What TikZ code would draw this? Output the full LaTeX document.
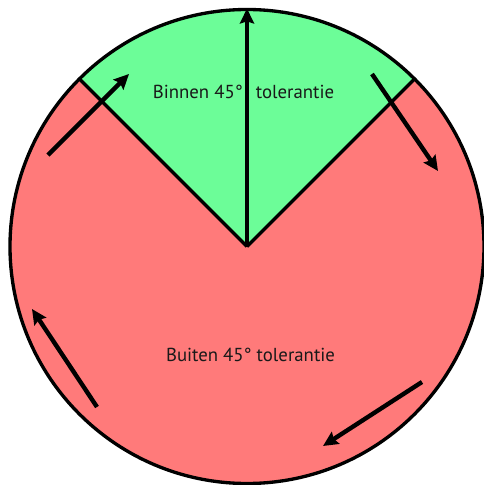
\documentclass[tikz,border=0pt]{standalone}
\usepackage{fontspec}
\setmainfont{PT Sans}
\usepackage{xcolor}
\usepackage{tikz}
\usetikzlibrary{arrows.meta,calc}
\definecolor{groen}{HTML}{6CFD98}
\definecolor{rood}{HTML}{FF7A7A}

\begin{document}
\begin{tikzpicture}[
  x=0.02cm,y=0.02cm,
  rand/.style={draw=black,line width=1.9pt},
  tekst/.style={font=\fontsize{10.7}{12}\selectfont,text=black!90},
  pijl/.style={-{Stealth[length=8.5pt,width=8pt,inset=1.2pt]},line width=2.5pt}
]
\useasboundingbox (0,0) rectangle (484,485);
\coordinate (midden) at (247,238.5);
% cirkel met sector van 2x45 graden
\fill[rood] (midden) circle[radius=237];
\fill[groen] (midden) -- ++(45:237) arc[start angle=45,end angle=135,radius=237] -- cycle;
\draw[rand] (midden) -- ++(45:237);
\draw[rand] (midden) -- ++(135:237);
\draw[rand] (midden) circle[radius=237];
\node[tekst] (binnen) at (243.5,393) {Binnen 45°\hspace{0.7em}tolerantie};
\node[tekst] (buiten) at (250.5,130) {Buiten 45° tolerantie};
% richting
\coordinate (top) at (247,476.5);
\draw[pijl] (midden) -- (top);
% pijlen rond de cirkel
\coordinate (a1) at (48,330);   \coordinate (a2) at (129,411);
\coordinate (b1) at (372,411);  \coordinate (b2) at (438,314);
\coordinate (c1) at (97,78);    \coordinate (c2) at (32,176);
\coordinate (d1) at (422,103);  \coordinate (d2) at (323,39);
\draw[pijl] (a1) -- (a2);
\draw[pijl] (b1) -- (b2);
\draw[pijl] (c1) -- (c2);
\draw[pijl] (d1) -- (d2);
\end{tikzpicture}
\end{document}
